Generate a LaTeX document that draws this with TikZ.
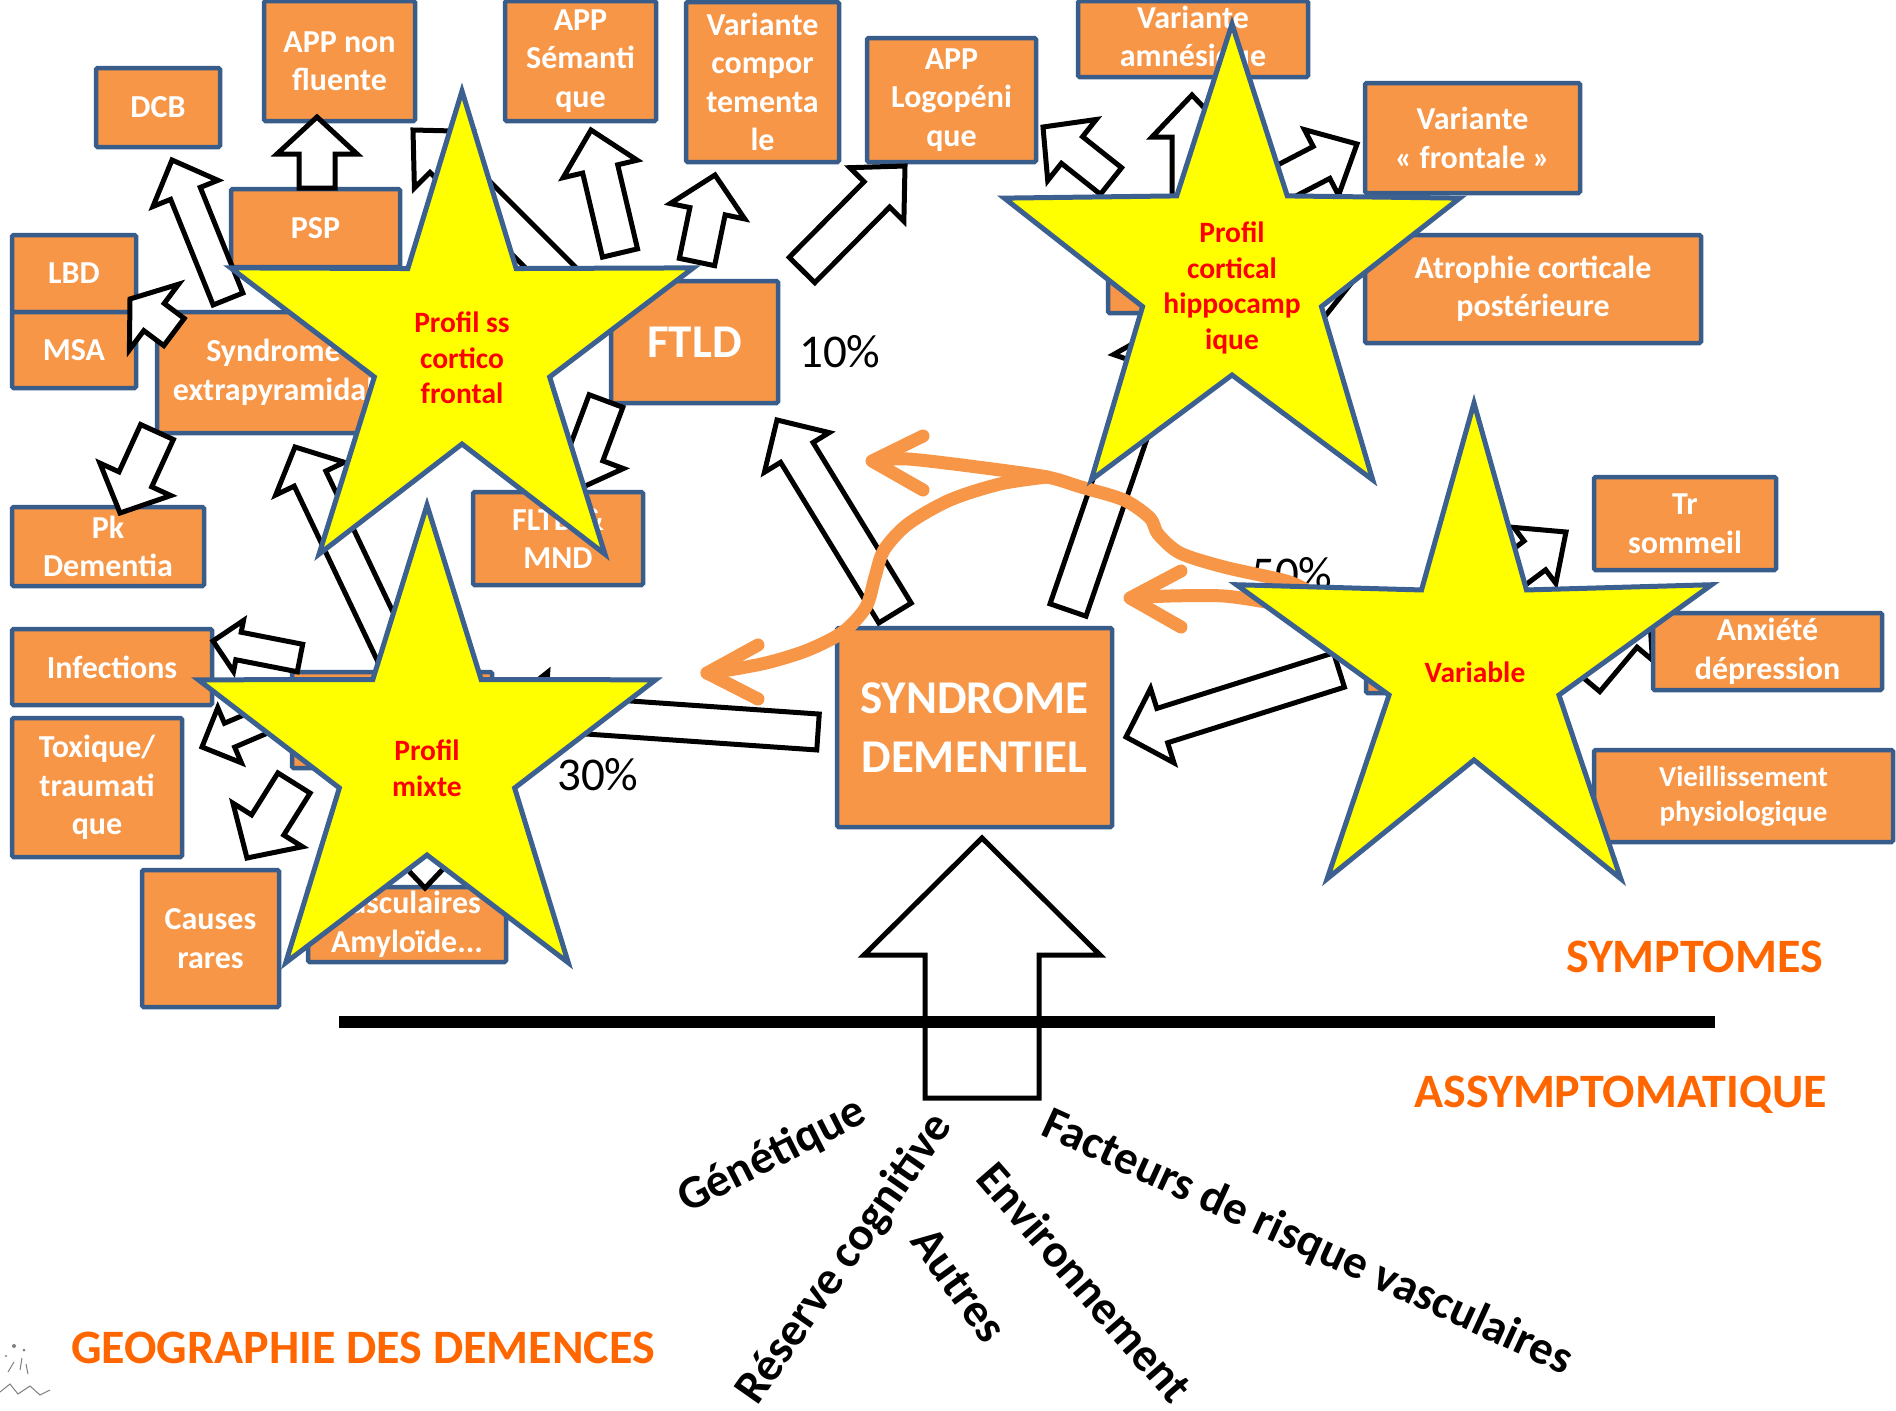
\documentclass[tikz,border=0pt]{standalone}
\usepackage{fontspec}
\setmainfont{Carlito}
\usetikzlibrary{calc}
\definecolor{boxfill}{HTML}{F79646}
\definecolor{boxline}{HTML}{385D8A}
\definecolor{starline}{HTML}{3C6090}
\definecolor{staryellow}{RGB}{255,255,0}
\definecolor{starred}{RGB}{255,0,0}
\definecolor{titleorange}{HTML}{FF6600}
\tikzset{
  box/.style={draw=boxline, line width=4.5pt, fill=boxfill, rounded corners=1.5pt, text=white,
    font=\bfseries\fontsize{32}{38.5}\selectfont, align=center, inner sep=0pt},
  blockarrow/.style={draw=black, line width=5pt, fill=white, line join=miter},
  starshape/.style={draw=starline, line width=5pt, fill=staryellow, line join=miter},
  startext/.style={text=starred, font=\bfseries\fontsize{29.5}{35.5}\selectfont, align=center, inner sep=0pt},
  pct/.style={font=\fontsize{47}{50}\selectfont, inner sep=0pt, anchor=base west},
  orangearrow/.style={draw=boxfill, line width=13pt, line cap=round, line join=round},
  bigtext/.style={font=\bfseries\fontsize{48}{55}\selectfont, text=titleorange, inner sep=0pt},
  factor/.style={font=\bfseries\fontsize{47}{52}\selectfont, inner sep=0pt},
}
\newcommand\barrow[6]{%
  \coordinate (#1-s) at (#2);
  \coordinate (#1-e) at (#3);
  \coordinate (#1-n) at ($(#1-e)!#6pt!(#1-s)$);
  \draw[blockarrow] ($(#1-s)!#4pt!90:(#1-e)$) -- ($(#1-n)!#4pt!90:(#1-e)$) -- ($(#1-n)!#5pt!90:(#1-e)$) -- (#1-e) -- ($(#1-n)!#5pt!-90:(#1-e)$) -- ($(#1-n)!#4pt!-90:(#1-e)$) -- ($(#1-s)!#4pt!-90:(#1-e)$) -- cycle;}
\newcommand\mystar[3]{%
  \draw[starshape, shift={(#1)}, xscale=0.95] (90:#2pt) -- (126:#3pt) -- (162:#2pt) -- (198:#3pt) -- (234:#2pt) -- (270:#3pt) -- (306:#2pt) -- (342:#3pt) -- (18:#2pt) -- (54:#3pt) -- cycle;}
\begin{document}
\begin{tikzpicture}[x=1pt,y=-1pt]
\fill[white] (0,0) rectangle (1896,1411);
\useasboundingbox (0,0) rectangle (1896,1411);

% arrows lying under boxes
\barrow{aatr}{1280,344}{1380,218}{18}{40}{40}
\barrow{aanx}{1586,680}{1649,605}{18}{38}{40}

% boxes
\node[box, minimum width=124pt, minimum height=79pt] (dcb) at (158,107.5) {DCB};
\node[box, minimum width=151pt, minimum height=120pt] (appnf) at (339.5,61) {APP non\\fluente};
\node[box, minimum width=151pt, minimum height=120pt] (appsem) at (580.5,61) {APP\\Sémanti\\que};
\node[box, minimum width=153pt, minimum height=160pt] (varcomp) at (762.5,82) {Variante\\compor\\tementa\\le};
\node[box, minimum width=169pt, minimum height=124pt] (applogo) at (951.5,100) {APP\\Logopéni\\que};
\node[box, minimum width=230pt, minimum height=76pt] (varamn) at (1193,39) {Variante\\amnésique};
\node[box, minimum width=215pt, minimum height=110pt] (varfront) at (1472.5,138) {Variante\\« frontale »};
\node[box, minimum width=336pt, minimum height=108pt] (atrophie) at (1533,289) {Atrophie corticale\\postérieure};
\node[box, minimum width=169pt, minimum height=78pt] (psp) at (315.5,228) {PSP};
\node[box, minimum width=124pt, minimum height=77pt] (lbd) at (74,273.5) {LBD};
\node[box, minimum width=124pt, minimum height=76pt] (msa) at (74,350) {MSA};
\node[box, minimum width=233pt, minimum height=121pt] (sextra) at (273.5,372.5) {Syndrome\\extrapyramidal};
\node[box, minimum width=167pt, minimum height=122pt, font=\bfseries\fontsize{47}{52}\selectfont] (ftld) at (694.5,342) {FTLD};
\node[box, minimum width=170pt, minimum height=93pt] (fltd) at (558,538.5) {FLTD \&\\MND};
\node[box, minimum width=192pt, minimum height=79pt] (pk) at (108,546.5) {Pk\\Dementia};
\node[box, minimum width=200pt, minimum height=76pt] (infect) at (112,667) {Infections};
\node[box, minimum width=170pt, minimum height=139pt] (toxique) at (97,787.5) {Toxique/\\traumati\\que};
\node[box, minimum width=137pt, minimum height=137pt] (causes) at (210.5,938.5) {Causes\\rares};
\node[box, minimum width=198pt, minimum height=75pt] (vasc) at (407,924.5) {Vasculaires\\Amyloïde...};
\node[box, minimum width=182pt, minimum height=93pt] (trsom) at (1685,523.5) {Tr\\sommeil};
\node[box, minimum width=229pt, minimum height=77pt] (anx) at (1767.5,651.5) {Anxiété\\dépression};
\node[box, minimum width=299pt, minimum height=92pt, font=\bfseries\fontsize{29}{35}\selectfont] (vieil) at (1743.5,796) {Vieillissement\\physiologique};
\node[box, minimum width=275pt, minimum height=199pt, font=\bfseries\fontsize{47}{59}\selectfont] (synd) at (974.5,727.5) {SYNDROME\\DEMENTIEL};
\node[box, minimum width=182pt, minimum height=108pt] (hid2) at (1199,259) {};
\node[box, minimum width=200pt, minimum height=96pt] (hid3) at (392,720) {};
\node[box, minimum width=174pt, minimum height=88pt] (hid4) at (1453,649) {};

% block arrows
\barrow{adcb}{228,299}{172,160}{16}{35}{36}
\barrow{apsp}{317,188}{317,117}{18}{40}{37}
\barrow{albd}{174,332}{130,299}{17}{41}{30}
\barrow{apk}{157,432}{120,513}{18}{39}{37}
\barrow{anf}{575,292}{413,130}{18}{40}{42}
\barrow{asem}{620,253}{591,130}{18}{38}{40}
\barrow{acomp}{697,262}{715,175}{18}{38}{37}
\barrow{alogo}{802,270}{905,166}{18}{38}{40}
\barrow{afltd}{606,401}{572,492}{18}{40}{40}
\barrow{aftld}{895,613}{777,420}{19}{38}{38}
\barrow{ahid}{1068,610}{1166,325}{19}{40}{45}
\barrow{alogo2}{1111,181}{1043,127}{17}{39}{37}
\barrow{aamn}{1192,260}{1192,95}{20}{40}{42}
\barrow{afront}{1230,210}{1357,144}{18}{37}{40}
\barrow{aextra}{405,678}{295,447}{17.5}{38}{35}
\barrow{ainf}{300,658}{213,641}{14}{26}{26}
\barrow{atox}{300,705}{202,747}{13}{30}{30}
\barrow{acau}{294,783}{247,858}{19}{41}{39}
\barrow{avasc}{425,770}{425,888}{18}{38}{40}
\barrow{amix}{818,732}{500,710}{18}{41}{45}
\barrow{avar}{1339,670}{1126,737}{18}{39}{38}
\barrow{atr}{1446,622}{1566,532}{18}{35}{39}

% percentages
\node[pct] (p10) at (799,367) {10\%};
\node[pct] (p30) at (557,790) {30\%};
\node[pct] (p50) at (1251,589) {50\%};

% orange arrows
\coordinate (oa-s) at (1310,592);
\draw[orangearrow] plot[smooth, tension=0.5] coordinates {(oa-s) (1286,581) (1224,567) (1180,553) (1158,534) (1150,518) (1124,500) (1081,487) (1047,477) (985,468) (908,459) (874,461)};
\draw[orangearrow] (923,436) -- (872,461) -- (923,490);
\draw[orangearrow] plot[smooth, tension=0.5] coordinates {(1047,477) (1000,484) (950,500) (908,524) (884,550) (875,577) (866,607) (843,632) (808,650) (770,662) (735,669) (707,673)};
\draw[orangearrow] (758,645) -- (707,673) -- (758,699);
\coordinate (oc-s) at (1310,610);
\draw[orangearrow] plot[smooth, tension=0.5] coordinates {(oc-s) (1272,603) (1224,596) (1170,596) (1132,598)};
\draw[orangearrow] (1181,571) -- (1130,598) -- (1181,627);

% stars
\mystar{462,347}{256}{97}
\mystar{1232,276}{252}{99}
\mystar{427,758}{253}{97}
\mystar{1474,666}{263}{94}
\node[startext] (s1) at (462,358) {Profil ss\\cortico\\frontal};
\node[startext] (s2) at (1232,288) {Profil\\cortical\\hippocamp\\ique};
\node[startext] (s3) at (427,768) {Profil\\mixte};
\node[startext] (s4) at (1475,672) {Variable};

% big arrow and line
\barrow{aup}{982,1098}{982,838}{57}{118}{117}
\draw[line width=12pt] (339,1022) coordinate (ln-a) -- (1715,1022) coordinate (ln-b);

% labels
\node[bigtext, anchor=base east] (symp) at (1823,972) {SYMPTOMES};
\node[bigtext, anchor=base east] (assy) at (1827,1107) {ASSYMPTOMATIQUE};
\node[bigtext, anchor=base west] (geo) at (71,1363) {GEOGRAPHIE DES DEMENCES};

\node[factor, rotate=27] (gen) at (772,1156) {Génétique};
\node[factor, rotate=55] (res) at (845,1259) {Réserve cognitive};
\node[factor, rotate=-54] (aut) at (959,1285) {Autres};
\node[factor, rotate=-49] (env) at (1085,1282) {Environnement};
\node[factor, rotate=-24.6] (fac) at (1307,1243) {Facteurs de risque vasculaires};

% small sketch
\draw[gray, line width=1pt] (0,1392) -- (10,1384) -- (18,1394) -- (30,1386) -- (40,1395) -- (50,1390);
\draw[gray, line width=1pt] (8,1372) -- (14,1362) (20,1370) -- (22,1358) (28,1374) -- (26,1364);
\fill[gray] (14,1346) circle (2) (24,1350) circle (1.5) (6,1356) circle (1.2);
\end{tikzpicture}
\end{document}
